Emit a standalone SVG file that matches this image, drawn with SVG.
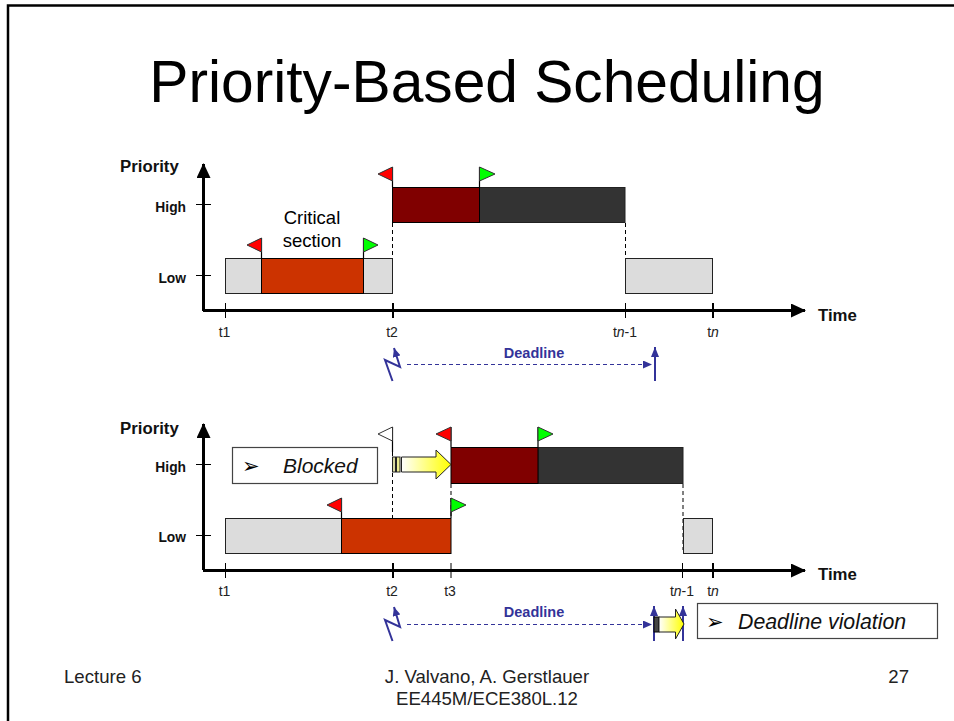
<svg xmlns="http://www.w3.org/2000/svg" width="954" height="721" viewBox="0 0 954 721">
<style>
text{font-family:"Liberation Sans",Arial,sans-serif;fill:#000}
.ax{font-size:16.8px;font-weight:bold;fill:#111}
.lv{font-size:13.8px;font-weight:bold;text-anchor:end;fill:#111}
.t{font-size:14px;fill:#222;text-anchor:middle}
.foot{font-size:18.600px;fill:#222}
.dl{font-size:14.500px;font-weight:bold;fill:#333399;text-anchor:middle}
.axis{stroke:#000;stroke-width:3;fill:none}
.tick{stroke:#000;stroke-width:1;fill:none}
.tick2{stroke:#000;stroke-width:2;fill:none}
.dash{stroke:#000;stroke-width:1;stroke-dasharray:4 3;fill:none}
.grey{fill:#dcdcdc;stroke:#222;stroke-width:1}
.orange{fill:#cc3300;stroke:#000;stroke-width:1}
.maroon{fill:#800000;stroke:#000;stroke-width:1}
.dark{fill:#333333;stroke:#222;stroke-width:1}
.red{fill:#ff0000;stroke:#333;stroke-width:1}
.green{fill:#00ff00;stroke:#333;stroke-width:1}
.white{fill:#fff;stroke:#333;stroke-width:1}
.pole{stroke:#000;stroke-width:1.2}
.blue{stroke:#333399;stroke-width:2;fill:none}
.bluedash{stroke:#333399;stroke-width:1;stroke-dasharray:4 3;fill:none}
.box{fill:#fff;stroke:#444;stroke-width:1.2}
.yarrow{fill:url(#yg);stroke:#222;stroke-width:1}
.bullet{font-size:21px;font-family:"DejaVu Sans",sans-serif}
.note{font-style:italic;fill:#111}
</style>
<defs>
<linearGradient id="yg" x1="0" x2="1" y1="0" y2="0"><stop offset="0" stop-color="#ffffff"/><stop offset="1" stop-color="#ffff00"/></linearGradient>
<marker id="ah" markerUnits="userSpaceOnUse" markerWidth="15" markerHeight="14" refX="14" refY="7" orient="auto"><path d="M0 0L15 7L0 14Z" fill="#000"/></marker>
<marker id="bh" markerUnits="userSpaceOnUse" markerWidth="9" markerHeight="8" refX="9" refY="4" orient="auto"><path d="M0 0L9 4L0 8Z" fill="#333399"/></marker>
<marker id="bs" markerUnits="userSpaceOnUse" markerWidth="10" markerHeight="8" refX="10" refY="4" orient="auto"><path d="M0 0L10 4L0 8Z" fill="#333399"/></marker>
</defs>
<g id="slide-frame"><path d="M8 721V5.500H954" fill="none" stroke="#000" stroke-width="2.500"/></g>
<g id="title"><text x="487" y="102" font-size="58.700" text-anchor="middle">Priority-Based Scheduling</text></g>

<g id="connectors">
<path class="axis" d="M203.500 311V164" marker-end="url(#ah)"/>
<path class="axis" d="M203 310.500H805" marker-end="url(#ah)"/>
<path class="tick" d="M196 204.500H211M196 275.500H211M225.500 303V318M625.500 303V318"/>
<path class="tick2" d="M393 303V318M713 303V318"/>
<path class="dash" d="M392.500 223V293M625.500 223V293"/>
<path class="bluedash" d="M407 364.500H652" marker-end="url(#bh)"/>
<path class="blue" d="M392.500 381L385 360L400 367L394 348" marker-end="url(#bh)"/>
<path class="blue" d="M655 381V347" marker-end="url(#bs)"/>

<path class="axis" d="M203.500 570V424" marker-end="url(#ah)"/>
<path class="axis" d="M203 570.500H805" marker-end="url(#ah)"/>
<path class="tick" d="M196 464.500H211M196 535.500H211M225.500 563V578M451 563V578M682.500 563V578"/>
<path class="tick2" d="M393 563V578M713 563V578"/>
<path class="dash" d="M392.500 452V518M451 484V518M683 484V550"/>
<path class="bluedash" d="M407 624.500H652" marker-end="url(#bh)"/>
<path class="blue" d="M392.500 641L385 620L400 627L394 607" marker-end="url(#bh)"/>
<path class="blue" d="M654 641V606" marker-end="url(#bs)"/>
<path class="blue" d="M683 641V606" marker-end="url(#bs)"/>
</g>

<g id="axes-labels-top">
<text class="ax" x="120" y="172">Priority</text>
<text class="lv" x="186" y="212">High</text>
<text class="lv" x="186" y="283">Low</text>
<text class="ax" x="818" y="321">Time</text>
<text class="t" x="224.500" y="337">t1</text>
<text class="t" x="392" y="337">t2</text>
<text class="t" x="625" y="337">t<tspan font-style="italic">n</tspan>-1</text>
<text class="t" x="713" y="337">t<tspan font-style="italic">n</tspan></text>
<text class="dl" x="534" y="358">Deadline</text>
</g>
<g id="critical-label"><text x="312" y="224" font-size="18.500" text-anchor="middle" fill="#222">Critical</text><text x="312" y="247" font-size="18.500" text-anchor="middle" fill="#222">section</text></g>

<g id="task-low-top">
<rect class="grey" x="225.500" y="258.500" width="36" height="35"/>
<rect class="grey" x="363.500" y="258.500" width="29" height="35"/>
<rect class="grey" x="625.500" y="258.500" width="87" height="35"/>
</g>
<g id="critical-top"><rect class="orange" x="261.500" y="258.500" width="102" height="35"/></g>
<g id="task-high-top">
<rect class="dark" x="479.500" y="187.500" width="145.500" height="35"/>
<rect class="maroon" x="392.500" y="187.500" width="87" height="35"/>
</g>
<g id="flags-top">
<path class="pole" d="M261.500 238V258M363.500 238V258M392.500 167V187M479.500 167V187"/>
<path class="red" d="M261.500 238V252L247 245Z"/>
<path class="green" d="M363.500 238V252L378 245Z"/>
<path class="red" d="M392.500 167V181L378 174Z"/>
<path class="green" d="M479.500 167V181L495 174Z"/>
</g>

<g id="axes-labels-bottom">
<text class="ax" x="120" y="434">Priority</text>
<text class="lv" x="186" y="472">High</text>
<text class="lv" x="186" y="542">Low</text>
<text class="ax" x="818" y="580">Time</text>
<text class="t" x="224.500" y="596">t1</text>
<text class="t" x="392" y="596">t2</text>
<text class="t" x="450" y="596">t3</text>
<text class="t" x="682" y="596">t<tspan font-style="italic">n</tspan>-1</text>
<text class="t" x="713" y="596">t<tspan font-style="italic">n</tspan></text>
<text class="dl" x="534" y="617">Deadline</text>
</g>
<g id="task-low-bottom">
<rect class="grey" x="225.500" y="518.500" width="116" height="35"/>
<rect class="grey" x="683.500" y="518.500" width="29" height="35"/>
</g>
<g id="critical-bottom"><rect class="orange" x="341.500" y="518.500" width="109.500" height="35"/></g>
<g id="task-high-bottom">
<rect class="dark" x="538" y="447.500" width="145" height="36"/>
<rect class="maroon" x="451" y="447.500" width="87" height="36"/>
</g>
<g id="flags-bottom">
<path class="pole" d="M392.500 427V452M451 427V447M341.500 498V518M451 498V518M538 427V447"/>
<path class="white" d="M392.500 427V441L378 434Z"/>
<path class="red" d="M451 427V441L436 434Z"/>
<path class="red" d="M341.500 498V512L327 505Z"/>
<path class="green" d="M451 498V512L466 505Z"/>
<path class="green" d="M538 427V441L553 434Z"/>
</g>

<g id="blocked-note">
<rect class="box" x="232.500" y="447.500" width="145" height="36"/>
<text class="bullet" x="242" y="473">➢</text>
<text class="note" x="283" y="473" font-size="21">Blocked</text>
</g>
<g id="blocked-arrow">
<rect x="392.500" y="457" width="3" height="15" fill="#d8d8a0" stroke="#222" stroke-width="1"/>
<rect x="396.500" y="457" width="3.500" height="15" fill="#ecec90" stroke="#222" stroke-width="1"/>
<path class="yarrow" d="M401.500 457H436V450L451 464.500L436 479V472H401.500Z"/>
</g>
<g id="violation-arrow">
<rect x="654" y="617" width="5" height="15" fill="#444" stroke="#000" stroke-width="1"/>
<path class="yarrow" d="M659 617H675.500V609L684 624L675.500 639V632H659Z"/>
</g>
<g id="violation-note">
<rect class="box" x="697.500" y="603.500" width="240" height="35"/>
<text class="bullet" x="706" y="629">➢</text>
<text class="note" x="738" y="629" font-size="21.300">Deadline violation</text>
</g>

<g id="footer">
<text class="foot" x="64" y="683">Lecture 6</text>
<text class="foot" x="487" y="683" text-anchor="middle">J. Valvano, A. Gerstlauer</text>
<text class="foot" x="487" y="705" text-anchor="middle">EE445M/ECE380L.12</text>
<text class="foot" x="909" y="683" text-anchor="end">27</text>
</g>
</svg>
